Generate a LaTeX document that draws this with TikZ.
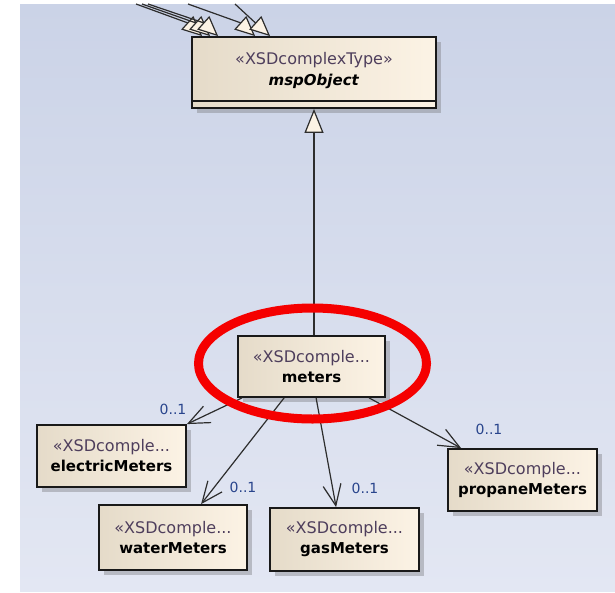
\documentclass[tikz,border=0pt]{standalone}
\usepackage{fontspec}
\setmainfont{DejaVu Sans}
\usetikzlibrary{arrows.meta,shadows,calc}
\definecolor{bgtop}{RGB}{203,211,231}
\definecolor{bgbot}{RGB}{227,231,243}
\definecolor{boxl}{RGB}{229,219,201}
\definecolor{boxr}{RGB}{252,243,229}
\definecolor{edgec}{RGB}{25,25,25}
\definecolor{connc}{RGB}{45,45,45}
\definecolor{stereo}{RGB}{78,62,92}
\definecolor{mult}{RGB}{40,68,140}
\definecolor{ring}{RGB}{245,0,0}
\definecolor{shad}{RGB}{120,120,125}
\begin{document}
\begin{tikzpicture}[x=1pt,y=-1pt,
  umlbox/.style={draw=edgec,line width=1.8pt,left color=boxl,right color=boxr,inner sep=0pt,align=center,
    font=\fontsize{15}{20}\selectfont,
    drop shadow={shadow xshift=5pt,shadow yshift=-5pt,fill=shad,opacity=0.4}},
  boxtext/.style={align=center,inner sep=0pt,font=\fontsize{15}{21}\selectfont},
  connl/.style={draw=connc,line width=1.2pt},
  gen/.style={connl,-{Triangle[length=24pt,width=19pt,fill=boxr]}},
  gens/.style={connl,line join=round,-{Triangle[length=20pt,width=18pt,fill=boxr]}},
  assoc/.style={connl,-{Straight Barb[length=21pt,width=18pt]}},
  multlab/.style={text=mult,font=\fontsize{14}{16}\selectfont,inner sep=0pt},
]
\useasboundingbox (0,0) rectangle (615,592);
\fill[top color=bgtop,bottom color=bgbot] (20,4) rectangle (615,591);

% boxes
\node[umlbox,minimum width=244pt,minimum height=71pt] (msp) at (314,72.5) {};
\coordinate (sepy) at (0,101);
\draw[edgec,line width=1.8pt] ([xshift=0.9pt]msp.west |- sepy) -- ([xshift=-0.9pt]msp.east |- sepy);
\node[boxtext] (msptext) at (314,70.5) {{\color{stereo}\fontsize{16}{21}\selectfont «XSDcomplexType»}\\\textbf{\textit{mspObject}}};

\node[umlbox,minimum width=147pt,minimum height=61pt] (meters) at (311.5,366.5)
  {{\color{stereo}\fontsize{16}{20}\selectfont «XSDcomple...}\\\textbf{meters}};
\node[umlbox,minimum width=149pt,minimum height=62pt] (electric) at (111.5,456)
  {{\color{stereo}\fontsize{16}{20}\selectfont «XSDcomple...}\\\textbf{electricMeters}};
\node[umlbox,minimum width=148pt,minimum height=65pt] (water) at (173,537.5)
  {{\color{stereo}\fontsize{16}{20}\selectfont «XSDcomple...}\\\textbf{waterMeters}};
\node[umlbox,minimum width=149pt,minimum height=63pt] (gas) at (344.5,539.5)
  {{\color{stereo}\fontsize{16}{20}\selectfont «XSDcomple...}\\\textbf{gasMeters}};
\node[umlbox,minimum width=149pt,minimum height=62pt] (propane) at (522.5,480)
  {{\color{stereo}\fontsize{16}{20}\selectfont «XSDcomple...}\\\textbf{propaneMeters}};

% generalizations
\draw[gen] (meters.north -| msp.south) -- (msp.south);
\coordinate (t1) at (136,4);
\coordinate (t2) at (142,4);
\coordinate (t3) at (148,4);
\coordinate (t4) at (188,4);
\coordinate (t5) at (235,4);
\coordinate (e1) at ([xshift=11pt]msp.north west);
\coordinate (e2) at ([xshift=19pt]msp.north west);
\coordinate (e3) at ([xshift=27pt]msp.north west);
\coordinate (e4) at ([xshift=64pt]msp.north west);
\coordinate (e5) at ([xshift=79pt]msp.north west);
\draw[gens] (t1) -- ($(e1)+(-14.9,-13.4)$) -- (e1);
\draw[gens] (t2) -- ($(e2)+(-14.9,-13.4)$) -- (e2);
\draw[gens] (t3) -- ($(e3)+(-14.9,-13.4)$) -- (e3);
\draw[gens] (t4) -- ($(e4)+(-14.9,-13.4)$) -- (e4);
\draw[gens] (t5) -- ($(e5)+(-14.9,-13.4)$) -- (e5);

% associations
\draw[assoc] ([xshift=5pt]meters.south west) -- (electric.north east);
\draw[assoc] ([xshift=47pt]meters.south west) -- ([xshift=103pt]water.north west);
\draw[assoc] ([xshift=79pt]meters.south west) -- ([xshift=67pt]gas.north west);
\draw[assoc] ([xshift=132pt]meters.south west) -- ([xshift=14pt]propane.north west);

\node[multlab] (m1) at (173,409) {0..1};
\node[multlab] (m2) at (243,487) {0..1};
\node[multlab] (m3) at (365,488) {0..1};
\node[multlab] (m4) at (489,429) {0..1};

% highlight
\draw[ring,line width=9pt] (312.5,363.5) ellipse [x radius=114, y radius=55.5];
\end{tikzpicture}
\end{document}
